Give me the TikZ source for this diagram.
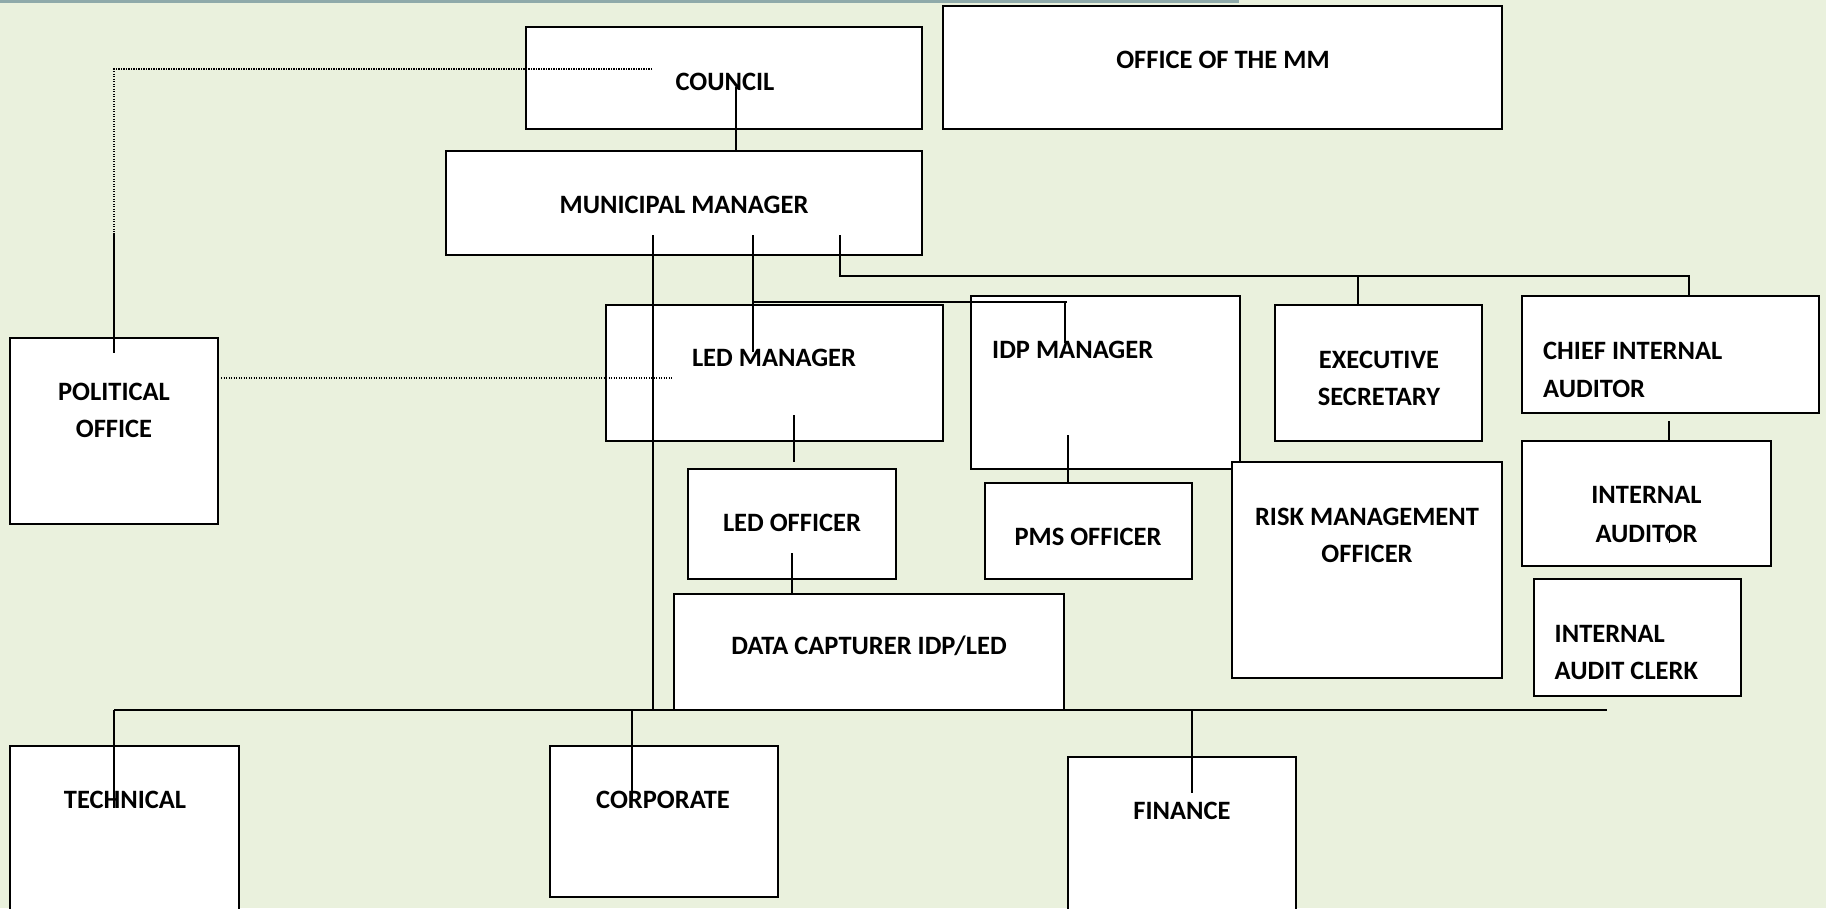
\documentclass[tikz,border=0pt]{standalone}
\usepackage{fontspec}
\setmainfont{Carlito}
\definecolor{bgc}{HTML}{EAF1DD}
\definecolor{bandc}{HTML}{8FAAAA}
\begin{document}
\begin{tikzpicture}[x=1pt,y=-1pt,
  box/.style={draw=black, line width=2pt, fill=white, rectangle, inner sep=0pt},
  lbl/.style={font=\fontsize{26.5}{37}\selectfont\bfseries, inner sep=0pt, anchor=base},
  lbll/.style={lbl, anchor=base west},
  con/.style={line width=1.4pt},
  dotl/.style={line width=1.2pt, dash pattern=on 1.2pt off 1.3pt}]
\fill[bgc] (0,0) rectangle (1826,908);
\useasboundingbox (0,0) rectangle (1826,908);
\fill[bandc] (0,0) rectangle (1239,2.5);

% boxes
\node[box, minimum width=396pt, minimum height=102pt] (council) at (724,78) {};
\node[box, minimum width=559pt, minimum height=123pt] (office) at (1222.5,67.5) {};
\node[box, minimum width=476pt, minimum height=104pt] (mm) at (684,203) {};
\node[box, minimum width=208pt, minimum height=186pt] (political) at (114,431) {};
\node[box, minimum width=337pt, minimum height=136pt] (ledm) at (774.5,373) {};
\node[box, minimum width=269pt, minimum height=173pt] (idpm) at (1105.5,382.5) {};
\node[box, minimum width=207pt, minimum height=136pt] (exec) at (1378.5,373) {};
\node[box, minimum width=297pt, minimum height=117pt] (chief) at (1670.5,354.5) {};
\node[box, minimum width=249pt, minimum height=125pt] (ia) at (1646.5,503.5) {};
\node[box, minimum width=207pt, minimum height=117pt] (iac) at (1637.5,637.5) {};
\node[box, minimum width=270pt, minimum height=216pt] (risk) at (1367,570) {};
\node[box, minimum width=208pt, minimum height=110pt] (ledo) at (792,524) {};
\node[box, minimum width=207pt, minimum height=96pt] (pms) at (1088.5,531) {};
\node[box, minimum width=390pt, minimum height=116pt] (data) at (869,652) {};
\node[box, minimum width=229pt, minimum height=184pt] (tech) at (124.5,838) {};
\node[box, minimum width=228pt, minimum height=151pt] (corp) at (664,821.5) {};
\node[box, minimum width=228pt, minimum height=173pt] (fin) at (1182,843.5) {};

% labels
\node[lbl] (councilT) at (725,90) {COUNCIL};
\node[lbl] (officeT) at (1223,68) {OFFICE OF THE MM};
\node[lbl] (mmT) at (684,213) {MUNICIPAL MANAGER};
\node[lbl] (polT1) at (114,400) {POLITICAL};
\node[lbl] (polT2) at (114,437) {OFFICE};
\node[lbl] (ledmT) at (774,366) {LED MANAGER};
\node[lbll] (idpmT) at (992,358) {IDP MANAGER};
\node[lbl] (execT1) at (1379,368) {EXECUTIVE};
\node[lbl] (execT2) at (1379,405) {SECRETARY};
\node[lbll] (chiefT1) at (1543,359) {CHIEF INTERNAL};
\node[lbll] (chiefT2) at (1543,397) {AUDITOR};
\node[lbl] (iaT1) at (1646.5,503) {INTERNAL};
\node[lbl] (iaT2) at (1646.5,542) {AUDITOR};
\node[lbll] (iacT1) at (1554.5,642) {INTERNAL};
\node[lbll] (iacT2) at (1554.5,679) {AUDIT CLERK};
\node[lbl] (riskT1) at (1367,525) {RISK MANAGEMENT};
\node[lbl] (riskT2) at (1367,562) {OFFICER};
\node[lbl] (ledoT) at (792,531) {LED OFFICER};
\node[lbl] (pmsT) at (1088,545) {PMS OFFICER};
\node[lbl] (dataT) at (869,654) {DATA CAPTURER IDP/LED};
\node[lbl] (techT) at (125,808) {TECHNICAL};
\node[lbl] (corpT) at (663,808) {CORPORATE};
\node[lbl] (finT) at (1182,819) {FINANCE};

% connector points
\coordinate (c1) at (736,87);
\coordinate (d1) at (652,69);
\coordinate (d2) at (114,233);
\coordinate (d3) at (114,353);
\coordinate (d4) at (221,378);
\coordinate (d5) at (672,378);
\coordinate (m1) at (653,235);
\coordinate (busL) at (114,710);
\coordinate (busR) at (1607,710);
\coordinate (m2) at (753,235);
\coordinate (m3) at (753,352);
\coordinate (m4) at (753,302);
\coordinate (m5) at (1067,302);
\coordinate (i1) at (1065,343);
\coordinate (r1) at (840,235);
\coordinate (r2) at (1689,296);
\coordinate (e1) at (1358,276);
\coordinate (l1) at (794,415);
\coordinate (l2) at (794,462);
\coordinate (p1) at (1068,435);
\coordinate (p2) at (1068,482);
\coordinate (o1) at (792,553);
\coordinate (a1) at (1669,421);
\coordinate (a2) at (1669,525);
\coordinate (a3) at (1669,543);
\coordinate (k1) at (632,801);
\coordinate (f1) at (1192,793);

% connectors
\draw[con] (c1) -- (c1 |- mm.north);
\draw[dotl] (d1) -| (d2);
\draw[con] (d2) -- (d3);
\draw[dotl] (d4) -- (d5);
\draw[con] (m1) -- (m1 |- busL);
\draw[con] (busL) -- (busR);
\draw[con] (busL) -- (busL |- techT.base);
\draw[con] (k1 |- busL) -- (k1);
\draw[con] (f1 |- busL) -- (f1);
\draw[con] (m2) -- (m3);
\draw[con] (m4) -- (m5);
\draw[con] (i1 |- m4) -- (i1);
\draw[con] (r1) |- (e1 -| r2) -- (r2);
\draw[con] (e1) -- (e1 |- exec.north);
\draw[con] (l1) -- (l2);
\draw[con] (p1) -- (p2);
\draw[con] (o1) -- (o1 |- data.north);
\draw[con] (a1) -- (a1 |- ia.north);
\draw[line width=1pt] (a2) -- (a3);
\end{tikzpicture}
\end{document}
